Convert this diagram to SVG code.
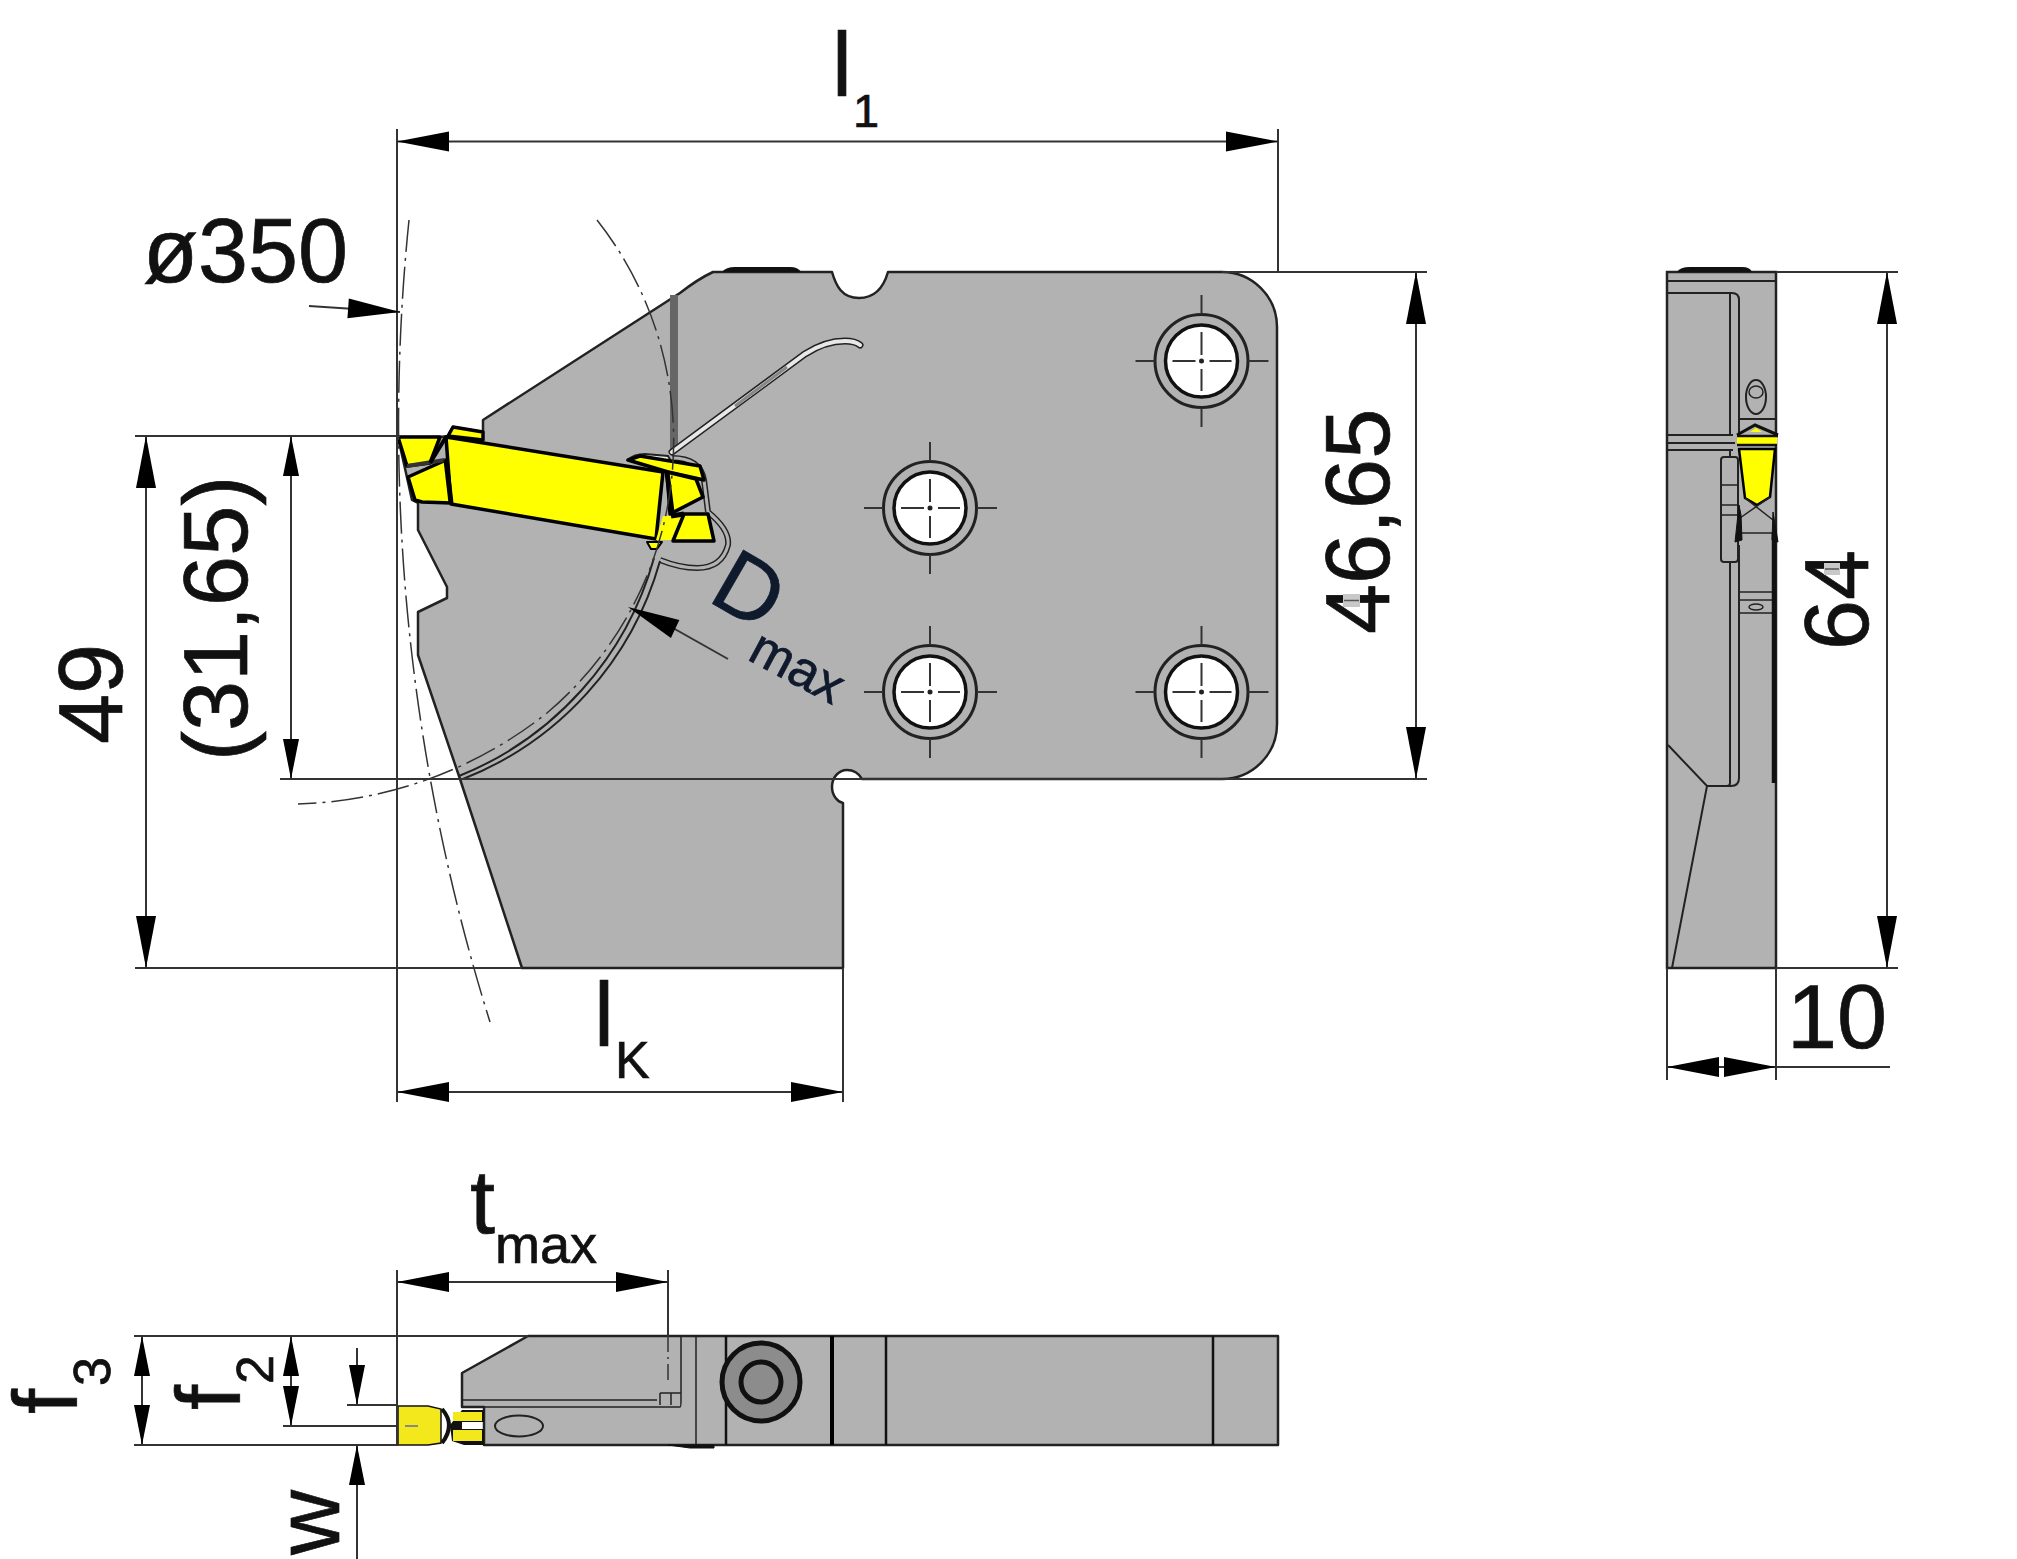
<svg xmlns="http://www.w3.org/2000/svg" width="2017" height="1559" viewBox="0 0 2017 1559">
<style>
text{font-family:"Liberation Sans",Arial,sans-serif;fill:#111;stroke:#111;stroke-width:.7}
.t{font-size:90px}.s{font-size:47px}.f{font-size:52px}.m{font-size:54px}
.navy{fill:#0f1a2c;stroke:#0f1a2c}
.b{fill:#b2b2b2;stroke:#222;stroke-width:2.5;stroke-linejoin:round}
.y{fill:#ffff00;stroke:#000;stroke-width:3.5;stroke-linejoin:round}
.yn{fill:#ffff00;stroke:none}
.yb{fill:#f3e81c;stroke:none}
.l{fill:none;stroke:#222;stroke-width:2}
.d{fill:none;stroke:#333;stroke-width:2}
.c{fill:none;stroke:#333;stroke-width:1.5;stroke-dasharray:32 6 3 6}
.a{fill:#000;stroke:none}
</style>
<defs>
<g id="hole">
<circle r="46.500" fill="#b2b2b2" stroke="#222" stroke-width="3"/>
<circle r="36" fill="#fff" stroke="#111" stroke-width="3.500"/>
<path d="M-66 0H-47M-29 0H-6M8 0H30M47 0H67M0 -66V-47M0 -29V-6M0 8V30M47 0H67M0 47V66" stroke="#333" stroke-width="2" fill="none"/>
<circle r="2.500" fill="#222"/>
</g>
<path id="ar" class="a" d="M0 0L-52 -10V10Z"/>
<path id="ars" class="a" d="M0 0L-40 -8V8Z"/>
</defs>

<g id="front-view">
<path class="b" d="M398 437H440L448 436L453 427L483 432V420L680 293Q698 279 713 272H832C836 286 842 298 859 298C876 298 884 286 888 272H1222A55 55 0 0 1 1277 327V724A55 55 0 0 1 1222 779H862C858 772 852 770 847 770C838 770 832 778 832 787C832 796 838 802 843 803V968H522L460 779L418 655V612L447 598V587L418 530V503L412 500Z"/>
<path d="M722 272Q726 267 735 267H790Q798 267 801 272Z" fill="#111"/>
<rect x="670" y="295" width="8" height="156" fill="#666"/>
<path d="M672 452L805 354Q825 341 845 341Q855 341 860 345" fill="none" stroke="#222" stroke-width="7" stroke-linecap="round"/>
<path d="M672 452L805 354Q825 341 845 341Q855 341 860 345" fill="none" stroke="#e8e8e8" stroke-width="4" stroke-linecap="round"/>
<path d="M735 406L787 367" fill="none" stroke="#888" stroke-width="3"/>
<path d="M628 460Q634 454 645 454L668 456L672 463Z" fill="#eee" stroke="#222" stroke-width="2"/>
<path id="loop-a" d="M672 458Q700 458 704 480L708 512M708 512Q730 530 728 545Q722 568 697 568Q680 568 660 560" fill="none" stroke="#222" stroke-width="6"/>
<path d="M672 458Q700 458 704 480L708 512M708 512Q730 530 728 545Q722 568 697 568Q680 568 660 560" fill="none" stroke="#b2b2b2" stroke-width="3"/>
<path class="l" d="M463 779A330 330 0 0 0 660 561"/>
<path class="l" d="M459 776A330 330 0 0 0 654 558"/>
<path class="y" d="M453 427L483 432V440L448 436Z"/>
<path class="y" d="M628 460L640 456L700 466L704 480L668 472Z"/>
<path class="y" d="M398 437H440L430 463L407 466Z"/>
<path class="y" d="M446 437L663 472L656 539L451 504Z"/>
<path class="y" d="M408 477L446 460L451 503L422 502L415 500Z"/>
<path class="y" d="M667 472L696 479L703 497L670 514Z"/>
<path class="y" d="M684 514H708L714 541H673Z"/>
<path class="yn" d="M663 516H681L671 540H656Z"/>
<path class="y" d="M647 542H662L657 549H651Z" style="stroke-width:2"/>
<path d="M407 466L432 462L445 460" fill="none" stroke="#333" stroke-width="4"/>
<path d="M667 472L672 512M671 516L684 514" fill="none" stroke="#000" stroke-width="5"/>
<path d="M446 460L451 503" fill="none" stroke="#000" stroke-width="5"/>
<path d="M446 437L430 463" fill="none" stroke="#000" stroke-width="4"/>
</g>

<g id="centre-lines">
<path class="c" d="M597 220A356 356 0 0 1 547 713A420 420 0 0 1 298 804"/>
<path class="c" d="M409 220A2000 2000 0 0 0 490 1022"/>
</g>

<use id="hole-1" href="#hole" x="1201.500" y="361"/>
<use id="hole-2" href="#hole" x="930" y="508"/>
<use id="hole-3" href="#hole" x="930" y="692"/>
<use id="hole-4" href="#hole" x="1201.500" y="692"/>

<g id="side-view">
<rect x="1667" y="272" width="109" height="696" fill="#b2b2b2" stroke="#222" stroke-width="2.5"/>
<path d="M1677 272Q1680 267 1690 267H1742Q1750 267 1752 272Z" fill="#111"/>
<path class="l" d="M1667 281H1776M1667 293H1732Q1739 293 1739 300V435M1730 293V435M1667 435H1733M1667 443H1735M1667 450H1733M1738 419H1776"/>
<ellipse class="l" cx="1756" cy="397" rx="10" ry="17"/>
<ellipse class="l" cx="1756" cy="392" rx="7" ry="6" style="stroke-width:1.5"/>
<path d="M1730 450V783Q1730 786 1727 786H1707L1668 745M1739 545V778Q1739 786 1731 786H1707L1672 968" fill="none" stroke="#222" stroke-width="2"/>
<rect x="1721" y="457" width="17" height="105" rx="3" fill="#b2b2b2" stroke="#222" stroke-width="2"/>
<path class="l" d="M1721 485H1738M1721 505H1738M1721 515H1738M1740 533H1776M1740 592H1772M1740 600H1772M1740 613H1772" style="stroke-width:1.5"/>
<ellipse class="l" cx="1756" cy="607" rx="7" ry="3" style="stroke-width:1.5"/>
<path d="M1774 533V783" stroke="#111" stroke-width="4.500" fill="none"/>
<path d="M1737 435L1755 425L1778 435" fill="#b2b2b2" stroke="#111" stroke-width="3"/>
<path class="yn" d="M1750 432L1756 428L1762 432Z"/>
<rect class="yn" x="1737" y="437" width="40" height="7"/>
<path d="M1737 436H1778M1737 445H1777" stroke="#111" stroke-width="2.500" fill="none"/>
<path class="y" d="M1739 449H1775L1770 497L1757 505L1745 498Z" style="stroke-width:2.500"/>
<path d="M1745 498L1773 520M1770 497L1740 518" class="l" style="stroke-width:1.500"/>
<path d="M1739 505L1735 542L1742 540L1741 515ZM1773 512L1778 542L1772 540Z" fill="#111" stroke="#111" stroke-width="1"/>
</g>

<g id="bottom-view">
<path class="b" d="M484 1445V1407H462V1373L528 1336H1278V1445Z"/>
<path class="l" d="M462 1400H657M462 1407H680Q681 1407 681 1400V1336M660 1393H681M660 1393V1405M671 1393V1405M696 1336V1445" style="stroke-width:1.500"/>
<path d="M726 1336V1445M886 1336V1445M1213 1336V1445" fill="none" stroke="#111" stroke-width="2.500"/>
<path d="M832 1336V1445" fill="none" stroke="#000" stroke-width="4"/>
<path d="M668 1445L690 1448H714V1445Z" fill="#111" stroke="#111"/>
<circle cx="761" cy="1382" r="39" fill="#8c8c8c" stroke="#111" stroke-width="5"/>
<circle cx="761" cy="1382" r="20" fill="#8c8c8c" stroke="#111" stroke-width="5"/>
<ellipse class="l" cx="519" cy="1426" rx="24" ry="10.500"/>
<path d="M398 1406H428L441 1409V1443L428 1445H398Z" fill="#f3e81c" stroke="#111" stroke-width="1.500"/>
<path d="M442 1409Q456 1425 442 1443" fill="none" stroke="#111" stroke-width="4"/>
<path d="M405 1426H418" stroke="#888" stroke-width="2"/>
<path d="M450 1425L462 1410H484V1422H462V1429H484V1445H464L452 1441Z" fill="#111"/>
<rect class="yb" x="453" y="1412" width="29" height="9"/>
<rect class="yb" x="453" y="1430" width="29" height="11"/>
</g>

<g id="connectors">
<path class="d" d="M397 129V1102M1278 129V272M397 141.500H1278M843 968V1102M397 1092H843"/>
<use href="#ar" transform="translate(397 141.500) rotate(180)"/>
<use href="#ar" transform="translate(1278 141.500)"/>
<use href="#ar" transform="translate(397 1092) rotate(180)"/>
<use href="#ar" transform="translate(843 1092)"/>
<path class="d" d="M135 436H400M135 968H522M146 436V968M280 779H1222M291 436V779"/>
<use href="#ar" transform="translate(146 436) rotate(-90)"/>
<use href="#ar" transform="translate(146 968) rotate(90)"/>
<use href="#ars" transform="translate(291 436) rotate(-90)"/>
<use href="#ars" transform="translate(291 779) rotate(90)"/>
<path class="d" d="M1222 272H1427M1222 779H1427M1416 272V779"/>
<use href="#ar" transform="translate(1416 272) rotate(-90)"/>
<use href="#ar" transform="translate(1416 779) rotate(90)"/>
<path class="d" d="M309 306L400 312"/>
<use href="#ar" transform="translate(400 312) rotate(4)"/>
<path class="d" d="M1776 272H1898M1776 968H1898M1887 272V968"/>
<use href="#ar" transform="translate(1887 272) rotate(-90)"/>
<use href="#ar" transform="translate(1887 968) rotate(90)"/>
<path class="d" d="M1667 968V1080M1776 968V1080M1667 1067H1890"/>
<use href="#ar" transform="translate(1667 1067) rotate(180)"/>
<use href="#ar" transform="translate(1776 1067)"/>
<path class="d" d="M728 659L673 628"/>
<use href="#ar" transform="translate(628 607) rotate(205)"/>
<path class="d" d="M397 1270V1445M668 1270V1336M397 1282H668"/>
<path d="M668 1336V1380" fill="none" stroke="#333" stroke-width="1.500" stroke-dasharray="16 5 2 5"/>
<use href="#ar" transform="translate(397 1282) rotate(180)"/>
<use href="#ar" transform="translate(668 1282)"/>
<path class="d" d="M134 1336H528M134 1445H398M142 1336V1445M291 1336V1426M283 1426H398M347 1405H398M357 1348V1405M357 1445V1559"/>
<use href="#ars" transform="translate(142 1336) rotate(-90)"/>
<use href="#ars" transform="translate(142 1445) rotate(90)"/>
<use href="#ars" transform="translate(291 1336) rotate(-90)"/>
<use href="#ars" transform="translate(291 1426) rotate(90)"/>
<use href="#ars" transform="translate(357 1405) rotate(90)"/>
<use href="#ars" transform="translate(357 1445) rotate(-90)"/>
</g>

<g id="labels">
<text class="t" x="832" y="96">l</text><text class="s" x="853" y="127">1</text>
<text class="t" x="143" y="282">ø350</text>
<text class="t" transform="translate(122 744) rotate(-90)">49</text>
<text class="t" transform="translate(247 761) rotate(-90)">(31,65)</text>
<text class="t" transform="translate(1389 634) rotate(-90)">46,65</text>
<text class="t" transform="translate(1868 650) rotate(-90)">64</text>
<text class="t" x="1787" y="1048">10</text>
<text class="t" x="594" y="1046">l</text><text class="f" x="615" y="1078">K</text>
<text class="t navy" transform="translate(706 600) rotate(30)">D</text>
<text class="m navy" transform="translate(746 659) rotate(28)" style="font-size:52px">max</text>
<text class="t" x="470" y="1233">t</text><text class="m" x="495" y="1263">max</text>
<text class="t" transform="translate(77 1414) rotate(-90)">f</text><text class="f" transform="translate(110 1386) rotate(-90)">3</text>
<text class="t" transform="translate(240 1410) rotate(-90)">f</text><text class="f" transform="translate(273 1384) rotate(-90)">2</text>
<text class="t" transform="translate(339 1555) rotate(-90)">w</text>
<rect x="1343" y="594" width="17" height="13" fill="#c8c8c8"/>
<path d="M1344 600.500H1359" stroke="#555" stroke-width="1.500"/>
<rect x="1824" y="563" width="16" height="12" fill="#c8c8c8"/>
<path d="M1825 569H1839" stroke="#555" stroke-width="1.500"/>
</g>
</svg>
